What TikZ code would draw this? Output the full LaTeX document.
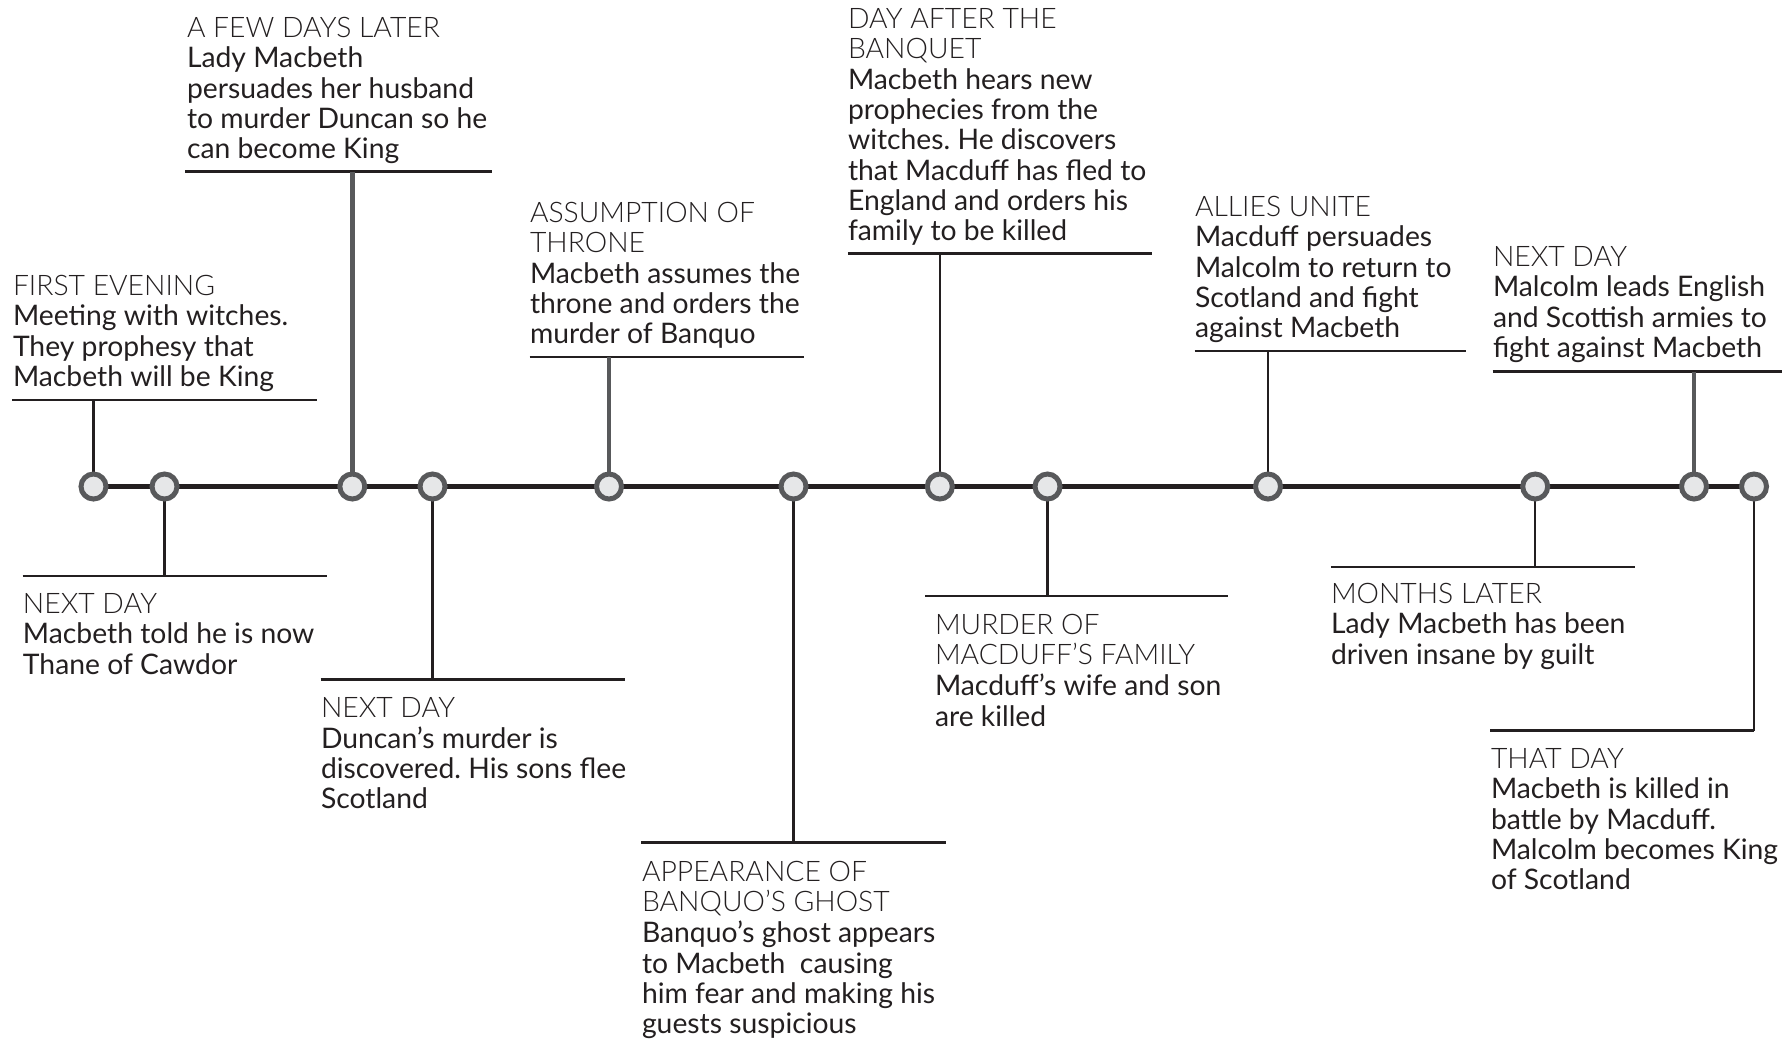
\documentclass[tikz,border=0pt]{standalone}
\usepackage{fontspec}
\setmainfont{Lato}
\newfontfamily\hdfont{Lato Light}
\definecolor{ink}{HTML}{231F20}
\definecolor{ring}{HTML}{58595B}
\definecolor{dotfill}{HTML}{E6E7E8}
\newcommand{\evfont}{\fontsize{28.3}{30.3}\selectfont\frenchspacing}
\newcommand{\hd}[1]{{\hdfont #1}}
\newcommand{\ev}[1]{\begin{tabular}[t]{@{}l@{}}#1\end{tabular}}
\tikzset{
  evt/.style={anchor=base west, inner sep=0pt, outer sep=0pt, text=ink, font=\evfont, yshift=-1.5pt},
  dot/.style={circle, draw=ring, fill=dotfill, line width=5pt, minimum size=25pt, inner sep=0pt},
  tline/.style={draw=ink, line width=5pt},
  thinc/.style={draw=ink, line width=2.5pt},
  thickc/.style={draw=ring, line width=4.5pt},
  rulel/.style={draw=ink, line width=2.5pt},
}
\begin{document}
\begin{tikzpicture}[x=1pt,y=-1pt]
\useasboundingbox (0,0) rectangle (1782,1039);
% timeline dots
\coordinate (p1) at (93.5,486.5);
\coordinate (p2) at (164.5,486.5);
\coordinate (p3) at (352.3,486.5);
\coordinate (p4) at (432.5,486.5);
\coordinate (p5) at (609,486.5);
\coordinate (p6) at (793.5,486.5);
\coordinate (p7) at (939.8,486.5);
\coordinate (p8) at (1047.5,486.5);
\coordinate (p9) at (1268,486.5);
\coordinate (p10) at (1535.2,486.5);
\coordinate (p11) at (1694,486.5);
\coordinate (p12) at (1754,486.5);
\draw[tline] (p1) -- (p12);
% underline rules
\coordinate (a1) at (12,400);    \coordinate (b1) at (317,400);    \coordinate (k1) at (93.5,400);
\coordinate (a2) at (22.7,576);  \coordinate (b2) at (327,576);    \coordinate (k2) at (164.5,576);
\coordinate (a3) at (185,171.7); \coordinate (b3) at (492,171.7);  \coordinate (k3) at (352.3,171.7);
\coordinate (a4) at (320.5,679.6); \coordinate (b4) at (625,679.6); \coordinate (k4) at (432.5,679.6);
\coordinate (a5) at (529.6,356.9); \coordinate (b5) at (803.5,356.9); \coordinate (k5) at (609,356.9);
\coordinate (a6) at (641,842.5); \coordinate (b6) at (946,842.5);  \coordinate (k6) at (793.5,842.5);
\coordinate (a7) at (847.8,253.4); \coordinate (b7) at (1152.4,253.4); \coordinate (k7) at (939.8,253.4);
\coordinate (a8) at (925,596);   \coordinate (b8) at (1228,596);   \coordinate (k8) at (1047.5,596);
\coordinate (a9) at (1194.5,351.2); \coordinate (b9) at (1466,351.2); \coordinate (k9) at (1268,351.2);
\coordinate (a10) at (1330.8,567); \coordinate (b10) at (1635.4,567); \coordinate (k10) at (1535.2,567);
\coordinate (a11) at (1492.7,371.7); \coordinate (b11) at (1782,371.7); \coordinate (k11) at (1694,371.7);
\coordinate (a12) at (1490,730.5); \coordinate (k12) at (1754,730.5);
\foreach \i in {1,...,11} {\draw[rulel] (a\i) -- (b\i);}
\draw[rulel] (a12) -- (k12);
% connectors
\foreach \i in {1,2,4,6,7,8,9,10,12} {\draw[thinc] (k\i) -- (p\i);}
\foreach \i in {3,5,11} {\draw[thickc] (k\i) -- (p\i);}
% dots on top
\foreach \i in {1,...,12} {\node[dot] (c\i) at (p\i) {};}
% texts
\node[evt] (t1) at (13,294) {\ev{\hd{FIRST EVENING}\\Meeting with witches.\\They prophesy that\\Macbeth will be King}};
\node[evt] (t2) at (23,612) {\ev{\hd{NEXT DAY}\\Macbeth told he is now\\Thane of Cawdor}};
\node[evt] (t3) at (187,36) {\ev{\hd{A FEW DAYS LATER}\\Lady Macbeth\\persuades her husband\\to murder Duncan so he\\can become King}};
\node[evt] (t4) at (321,716) {\ev{\hd{NEXT DAY}\\Duncan’s murder is\\discovered. His sons flee\\Scotland}};
\node[evt] (t5) at (530,221) {\ev{\hd{ASSUMPTION OF}\\\hd{THRONE}\\Macbeth assumes the\\throne and orders the\\murder of Banquo}};
\node[evt] (t6) at (642,880) {\ev{\hd{APPEARANCE OF}\\\hd{BANQUO’S GHOST}\\Banquo’s ghost appears\\to Macbeth\ \ causing\\him fear and making his\\guests suspicious}};
\node[evt] (t7) at (848,27) {\ev{\hd{DAY AFTER THE}\\\hd{BANQUET}\\Macbeth hears new\\prophecies from the\\witches. He discovers\\that Macduff has fled to\\England and orders his\\family to be killed}};
\node[evt] (t8) at (935,633) {\ev{\hd{MURDER OF}\\\hd{MACDUFF’S FAMILY}\\Macduff’s wife and son\\are killed}};
\node[evt] (t9) at (1195,215) {\ev{\hd{ALLIES UNITE}\\Macduff persuades\\Malcolm to return to\\Scotland and fight\\against Macbeth}};
\node[evt] (t10) at (1331,602) {\ev{\hd{MONTHS LATER}\\Lady Macbeth has been\\driven insane by guilt}};
\node[evt] (t11) at (1493,265) {\ev{\hd{NEXT DAY}\\Malcolm leads English\\and Scottish armies to\\fight against Macbeth}};
\node[evt] (t12) at (1491,767) {\ev{\hd{THAT DAY}\\Macbeth is killed in\\battle by Macduff.\\Malcolm becomes King\\of Scotland}};
\end{tikzpicture}
\end{document}
